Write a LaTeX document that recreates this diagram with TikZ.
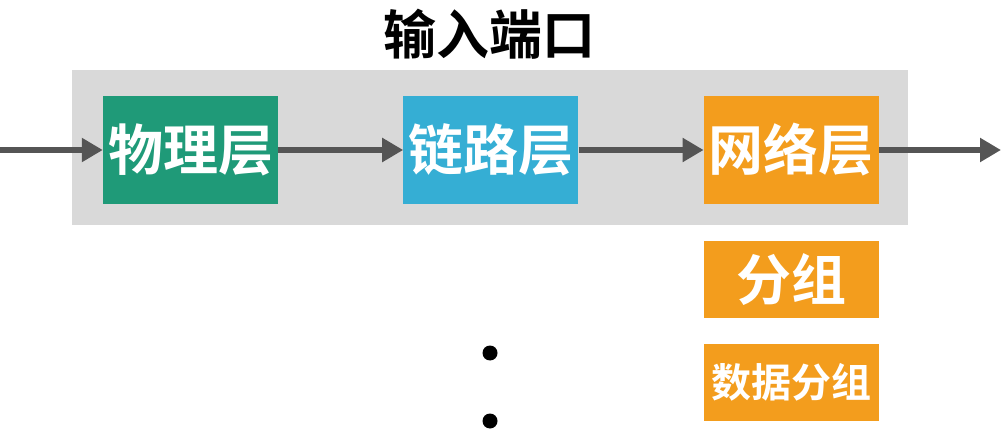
\documentclass[tikz,border=0pt]{standalone}
\usepackage{fontspec}
\newfontfamily\cjk{Noto Sans CJK SC}[BoldFont={* Bold}]
\usepackage{xcolor}
\definecolor{PortGreen}{HTML}{1F9A78}
\definecolor{PortBlue}{HTML}{35AED4}
\definecolor{PortOrange}{HTML}{F39D1D}
\definecolor{PortGray}{HTML}{D9D9D9}
\definecolor{PortArrow}{HTML}{555555}
\usetikzlibrary{positioning,arrows.meta,fit}
\tikzset{
  layerbox/.style={minimum width=175pt,minimum height=108pt,inner sep=0pt,align=center,font=\cjk\bfseries\fontsize{55}{60}\selectfont,text=white},
  pgreen/.style={layerbox,fill=PortGreen},
  pblue/.style={layerbox,fill=PortBlue},
  porange/.style={layerbox,fill=PortOrange},
  psmall/.style={porange,minimum height=77pt},
  pflow/.style={-{Triangle[length=21pt,width=23pt]},draw=PortArrow,line width=6.5pt}
}
\begin{document}
\begin{tikzpicture}[x=1pt,y=1pt]
  \useasboundingbox (0,0) rectangle (1001,-438);
  \fill[PortGray] (72,-70) rectangle (908,-225);
  \node[pgreen] (phy) at (190.5,-150) {物理层};
  \node[pblue,right=125pt of phy] (link) {链路层};
  \node[porange,right=125pt of link] (net) {网络层};
  \node[psmall,below=37pt of net] (grp) {分组};
  \node[psmall,below=25pt of grp,font=\cjk\bfseries\fontsize{40}{45}\selectfont] (dgrp) {数据分组};
  \node[font=\cjk\bfseries\fontsize{53}{58}\selectfont] (title) at (489,-34) {输入端口};
  \coordinate (in) at (0,-150);
  \coordinate (out) at (1001,-150);
  \draw[pflow] (in) -- (phy);
  \draw[pflow] (phy) -- (link);
  \draw[pflow] (link) -- (net);
  \draw[pflow] (net) -- (out);
  % dots
  \fill (490,-353) circle (7.5pt);
  \fill (490,-421) circle (7.5pt);
\end{tikzpicture}
\end{document}
